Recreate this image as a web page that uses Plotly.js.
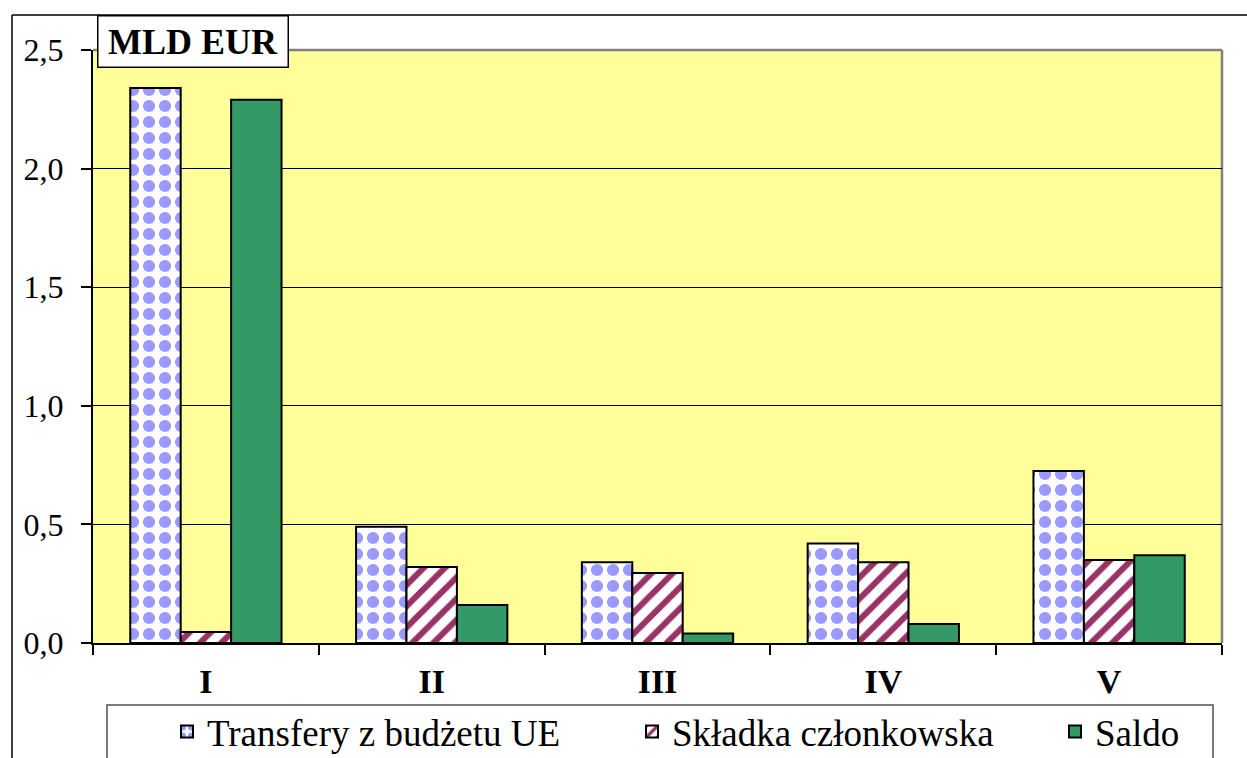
<!DOCTYPE html>
<html>
<head>
<meta charset="utf-8">
<script src="https://cdn.plot.ly/plotly-3.0.1.min.js"></script>
<style>html,body{margin:0;padding:0;background:#fff;}#chart{width:1247px;height:758px;}</style>
</head>
<body>
<div id="chart"></div>
<script>
const categories = ['I', 'II', 'III', 'IV', 'V'];
const transfery = [2.34, 0.49, 0.34, 0.42, 0.725];
const skladka = [0.046, 0.32, 0.295, 0.34, 0.35];
const saldo = [2.29, 0.16, 0.04, 0.08, 0.37];
const seriesNames = ['Transfery z budżetu UE', 'Składka członkowska', 'Saldo'];
const yTitle = 'MLD EUR';

const serif = '"Liberation Serif", "Times New Roman", Times, serif';
const outline = {color: '#000', width: 2};

const traces = [
  {type: 'bar', name: seriesNames[0], x: categories, y: transfery, legend: 'legend', showlegend: true,
   marker: {color: '#ffffff', line: outline,
     pattern: {shape: '.', fgcolor: '#9999ff', fgopacity: 1, bgcolor: '#ffffff', size: 16, solidity: 0.45, fillmode: 'replace'}}},
  {type: 'bar', name: seriesNames[1], x: categories, y: skladka, legend: 'legend2', showlegend: true,
   marker: {color: '#ffffff', line: outline,
     pattern: {shape: '/', fgcolor: '#993366', fgopacity: 1, bgcolor: '#ffffff', size: 15, solidity: 0.4, fillmode: 'replace'}}},
  {type: 'bar', name: seriesNames[2], x: categories, y: saldo, legend: 'legend3', showlegend: true,
   marker: {color: '#339966', line: outline}}
];

const W = 1247, H = 758, L = 93, R = 25, T = 50, B = 115;
const pw = W - L - R, ph = H - T - B;
const px = v => (v - L) / pw;
const py = v => (H - B - v) / ph;

const legendCommon = {
  visible: true,
  orientation: 'h', xref: 'container', yref: 'container', xanchor: 'left', yanchor: 'middle',
  y: 1 - 732 / H, bgcolor: 'rgba(0,0,0,0)', borderwidth: 0,
  font: {family: serif, size: 37, color: '#000'}
};

const layout = {
  width: W, height: H,
  showlegend: true,
  margin: {l: L, r: R, t: T, b: B, pad: 0},
  paper_bgcolor: '#ffffff',
  plot_bgcolor: '#ffff99',
  separators: ', ',
  barmode: 'group',
  bargap: 0.33,
  bargroupgap: 0,
  font: {family: serif, color: '#000'},
  xaxis: {
    type: 'category', showline: true, linecolor: '#000', linewidth: 2,
    ticks: 'outside', tickson: 'boundaries', ticklen: 10, tickwidth: 2, tickcolor: '#000',
    ticklabelstandoff: 7,
    tickfont: {family: serif, size: 34, weight: 'bold', color: '#000'},
    showgrid: false, zeroline: false, fixedrange: true
  },
  yaxis: {
    range: [0, 2.5], dtick: 0.5, tickformat: '.1f',
    showline: true, linecolor: '#000', linewidth: 2,
    ticks: 'outside', ticklen: 10, tickwidth: 2, tickcolor: '#000',
    ticklabelstandoff: 11,
    tickfont: {family: serif, size: 32, color: '#000'},
    showgrid: true, gridcolor: '#000', gridwidth: 1, zeroline: false, fixedrange: true
  },
  legend: Object.assign({}, legendCommon, {x: 167 / W}),
  legend2: Object.assign({}, legendCommon, {x: 632 / W}),
  legend3: Object.assign({}, legendCommon, {x: 1055 / W}),
  shapes: [
    {type: 'line', xref: 'paper', yref: 'paper', x0: 0, x1: 1, y0: 1, y1: 1, line: {color: '#808080', width: 2.5}, layer: 'below'},
    {type: 'line', xref: 'paper', yref: 'paper', x0: 1, x1: 1, y0: 0, y1: 1, line: {color: '#808080', width: 2.5}, layer: 'below'},
    {type: 'line', xref: 'paper', yref: 'paper', x0: px(12), x1: px(1260), y0: py(15), y1: py(15), line: {color: '#000', width: 1.5}},
    {type: 'line', xref: 'paper', yref: 'paper', x0: px(12), x1: px(12), y0: py(15), y1: py(775), line: {color: '#000', width: 1.5}},
    {type: 'rect', xref: 'paper', yref: 'paper', x0: px(107), x1: px(1213), y0: py(705), y1: py(775), line: {color: '#505050', width: 1.5}}
  ],
  annotations: [
    {xref: 'paper', yref: 'paper', x: px(97), y: py(15), xanchor: 'left', yanchor: 'top',
     text: '<b>' + yTitle + '</b>', showarrow: false, width: 189, height: 50,
     bgcolor: '#ffffff', bordercolor: '#000', borderwidth: 1.5, borderpad: 0,
     font: {family: serif, size: 36, color: '#000'}}
  ]
};

Plotly.newPlot('chart', traces, layout, {displayModeBar: false, staticPlot: true});
</script>
</body>
</html>
